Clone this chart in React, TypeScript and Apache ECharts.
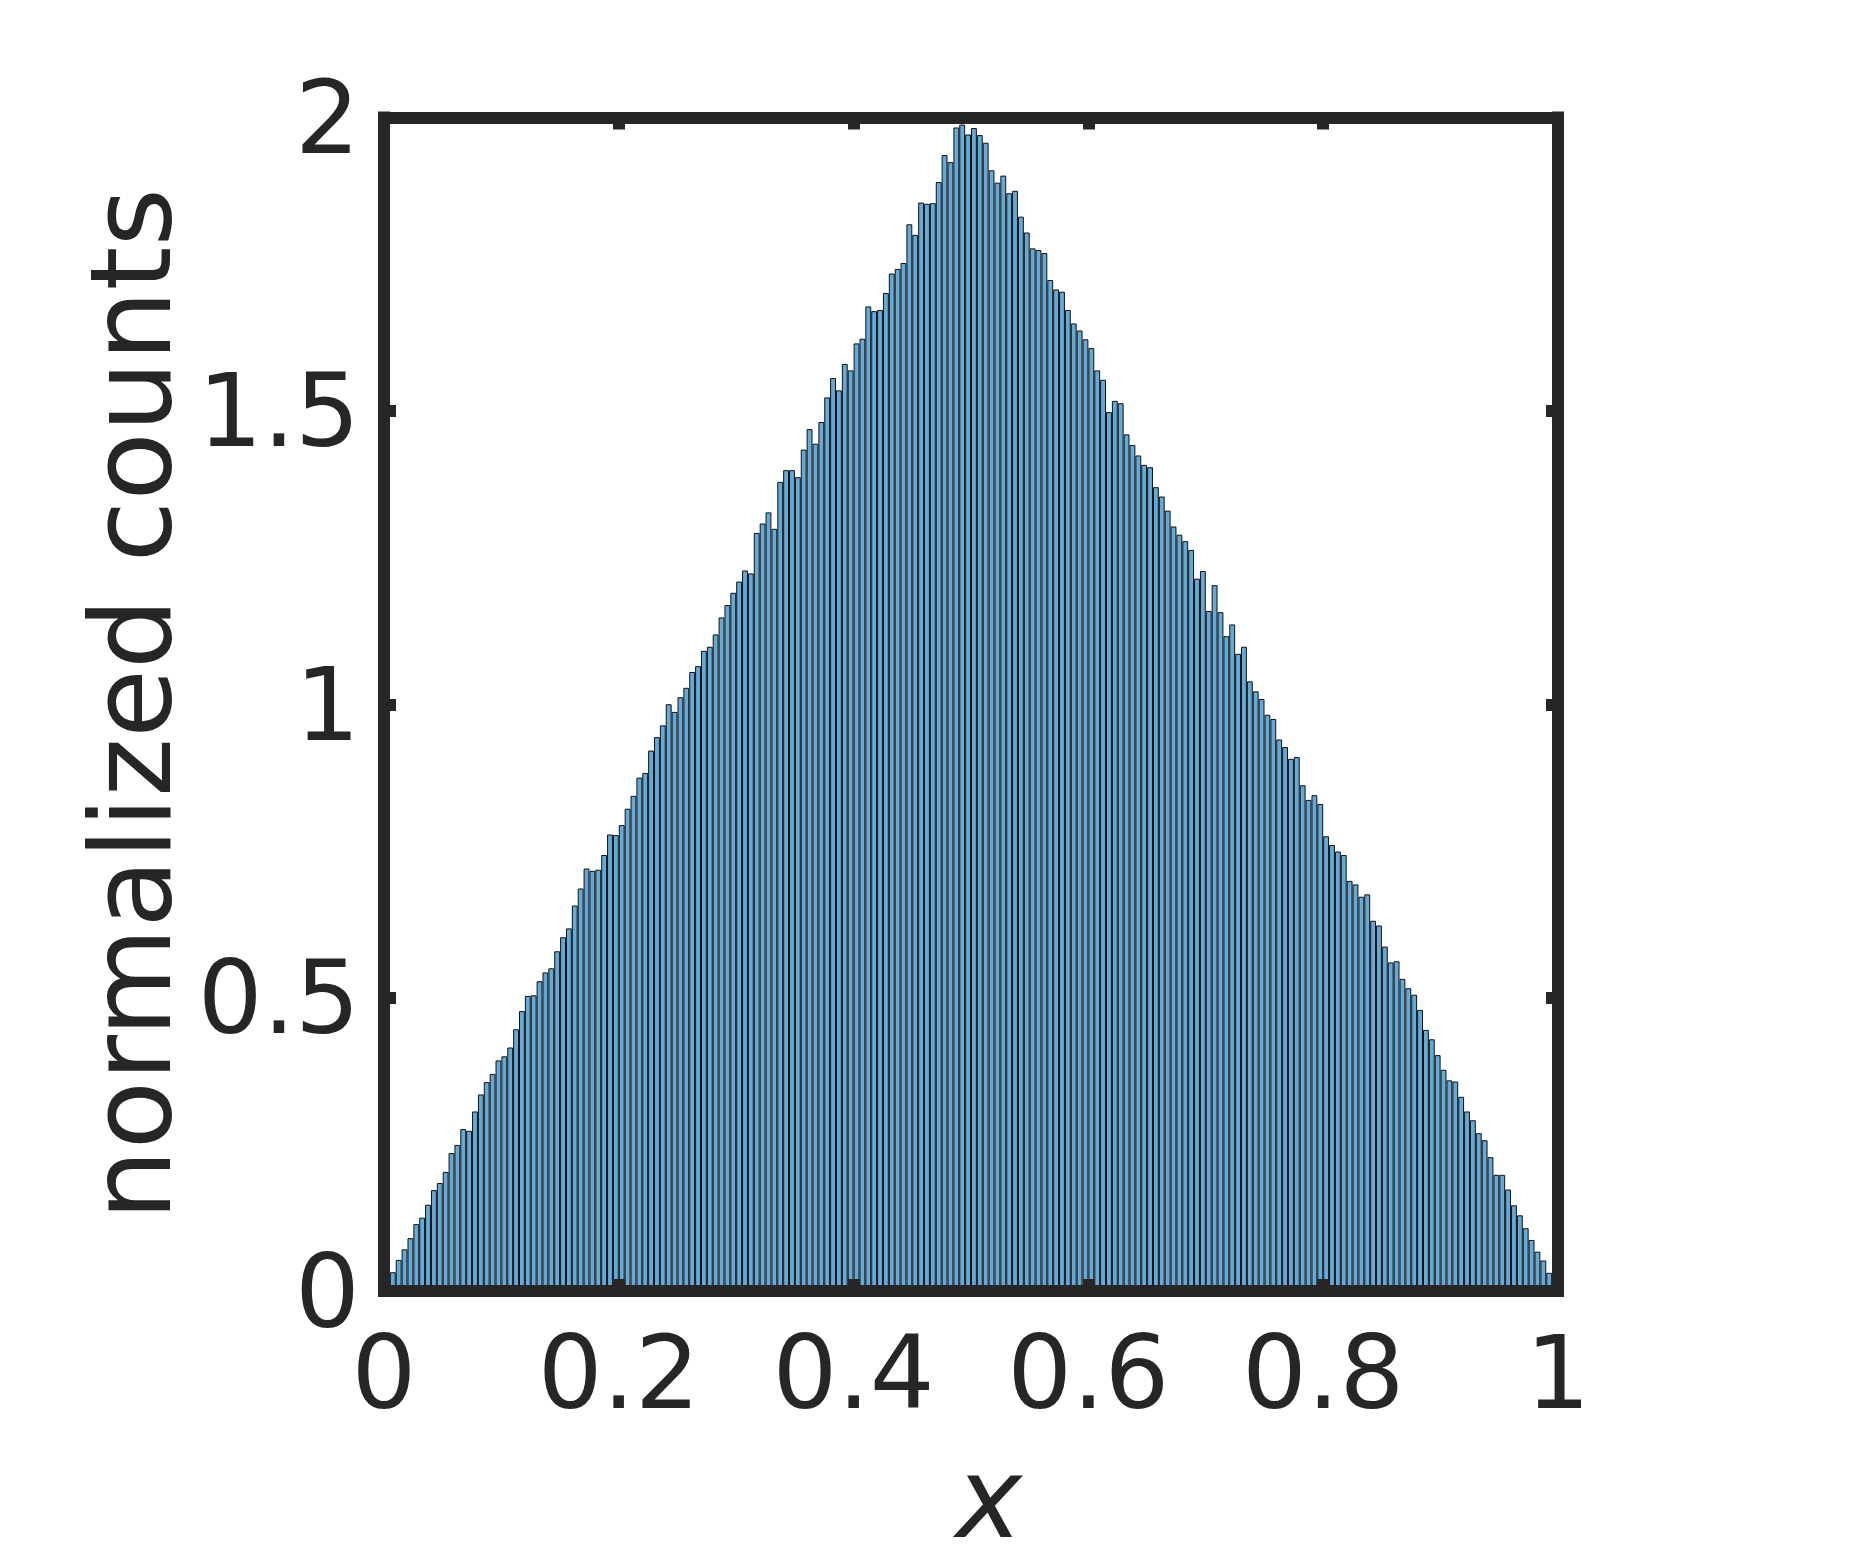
import React, { useEffect, useRef } from "react";
import * as echarts from "echarts";

// Normalized histogram counts, 200 bins of width 0.005 on [0, 1]
const risingCounts: number[] = [
  0.010, 0.032, 0.053, 0.071, 0.090, 0.114, 0.125, 0.147, 0.172, 0.184,
  0.203, 0.235, 0.249, 0.276, 0.273, 0.306, 0.335, 0.356, 0.370, 0.393,
  0.400, 0.415, 0.446, 0.477, 0.503, 0.504, 0.528, 0.543, 0.550, 0.579,
  0.603, 0.618, 0.657, 0.686, 0.720, 0.716, 0.718, 0.743, 0.778, 0.777,
  0.794, 0.822, 0.844, 0.875, 0.883, 0.921, 0.944, 0.964, 1.000, 0.987,
  1.012, 1.028, 1.055, 1.065, 1.091, 1.098, 1.119, 1.148, 1.169, 1.190,
  1.209, 1.228, 1.223, 1.292, 1.308, 1.327, 1.299, 1.379, 1.399, 1.399,
  1.387, 1.434, 1.469, 1.444, 1.481, 1.523, 1.556, 1.535, 1.580, 1.569,
  1.615, 1.623, 1.678, 1.670, 1.672, 1.701, 1.734, 1.742, 1.752, 1.818,
  1.800, 1.855, 1.853, 1.854, 1.890, 1.936, 1.924, 1.983, 1.988, 1.971,
];
const fallingCounts: number[] = [
  1.982, 1.970, 1.957, 1.910, 1.889, 1.901, 1.871, 1.875, 1.831, 1.804,
  1.777, 1.774, 1.769, 1.723, 1.707, 1.703, 1.672, 1.649, 1.637, 1.622,
  1.607, 1.569, 1.553, 1.498, 1.517, 1.513, 1.460, 1.442, 1.424, 1.408,
  1.404, 1.370, 1.354, 1.330, 1.303, 1.289, 1.278, 1.263, 1.214, 1.227,
  1.159, 1.203, 1.157, 1.116, 1.136, 1.086, 1.098, 1.039, 1.022, 1.009,
  0.982, 0.975, 0.940, 0.927, 0.907, 0.910, 0.862, 0.837, 0.845, 0.830,
  0.775, 0.760, 0.749, 0.743, 0.699, 0.693, 0.672, 0.676, 0.631, 0.623,
  0.587, 0.560, 0.562, 0.532, 0.516, 0.505, 0.479, 0.445, 0.429, 0.402,
  0.377, 0.359, 0.357, 0.331, 0.306, 0.291, 0.269, 0.257, 0.228, 0.198,
  0.198, 0.173, 0.146, 0.129, 0.107, 0.087, 0.067, 0.052, 0.031, 0.010,
];

const counts = [...risingCounts, ...fallingCounts];
const binCategories = counts.map((_, i) => String(i));

const xLabel = "x";
const yLabel = "normalized counts";
const xRange = [0, 1];
const xStep = 0.2;
const yRange = [0, 2];
const yStep = 0.5;

const INK = "#262626";
const FONT = "DejaVu Sans";
const FRAME_W = 12;

export default function App() {
  const ref = useRef<HTMLDivElement>(null);

  useEffect(() => {
    if (!ref.current) return;
    const chart = echarts.init(ref.current, null, { renderer: "svg" });

    const frameAxis = {
      z: 10,
      splitLine: { show: false },
      axisLine: { show: true, onZero: false, lineStyle: { color: INK, width: FRAME_W, cap: "square" } },
      axisTick: { show: true, inside: true, length: 12, lineStyle: { color: INK, width: FRAME_W } },
    };
    const labelStyle = { color: INK, fontFamily: FONT, fontSize: 102 };

    chart.setOption({
      animation: false,
      backgroundColor: "#ffffff",
      grid: { left: 384, right: 317, top: 117.5, bottom: 272, containLabel: false },
      xAxis: [
        {
          ...frameAxis,
          type: "value",
          position: "bottom",
          min: xRange[0],
          max: xRange[1],
          interval: xStep,
          axisLabel: { ...labelStyle, margin: 30 },
          name: xLabel,
          nameLocation: "middle",
          nameGap: 151,
          nameTextStyle: {
            color: INK,
            fontFamily: FONT,
            fontSize: 112,
            fontStyle: "italic",
            padding: [0, 0, 0, 36],
          },
        },
        {
          ...frameAxis,
          type: "value",
          position: "top",
          min: xRange[0],
          max: xRange[1],
          interval: xStep,
          axisLabel: { show: false },
        },
        {
          type: "category",
          data: binCategories,
          show: false,
          boundaryGap: true,
        },
      ],
      yAxis: [
        {
          ...frameAxis,
          type: "value",
          position: "left",
          min: yRange[0],
          max: yRange[1],
          interval: yStep,
          axisLabel: { ...labelStyle, margin: 24 },
          name: yLabel,
          nameLocation: "middle",
          nameGap: 194,
          nameRotate: 90,
          nameTextStyle: { color: INK, fontFamily: FONT, fontSize: 112 },
        },
        {
          ...frameAxis,
          type: "value",
          position: "right",
          min: yRange[0],
          max: yRange[1],
          interval: yStep,
          axisLabel: { show: false },
        },
      ],
      series: [
        {
          type: "bar",
          xAxisIndex: 2,
          yAxisIndex: 0,
          data: counts,
          barCategoryGap: "0%",
          barGap: "0%",
          z: 2,
          itemStyle: { color: "#65a9d7", borderColor: "#111111", borderWidth: 1 },
          emphasis: { disabled: true },
        },
      ],
    });

    return () => chart.dispose();
  }, []);

  return (
    <div
      ref={ref}
      style={{ position: "fixed", left: 0, top: 0, width: 1875, height: 1563, background: "#fff" }}
    />
  );
}
